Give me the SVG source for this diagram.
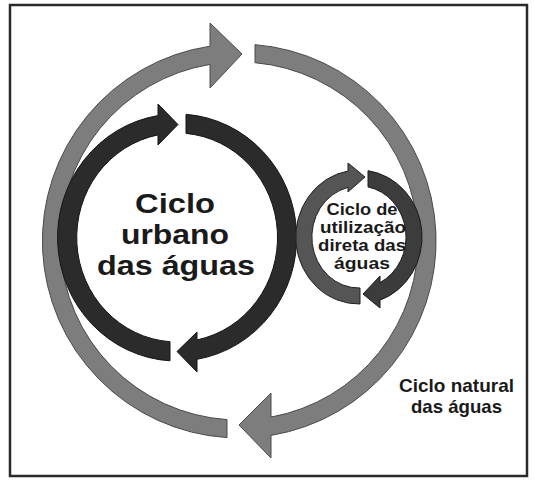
<svg xmlns="http://www.w3.org/2000/svg" width="535" height="483" viewBox="0 0 535 483">
<style>
.frame{fill:#fff;stroke:#2a2a2a;stroke-width:2.5}
.nat{fill:#7d7d7d;stroke:#4a4a4a;stroke-width:1}
.urb{fill:#2b2b2b;stroke:#151515;stroke-width:1}
.dirL{fill:#555;stroke:#222;stroke-width:1}
.dirR{fill:#3c3c3c;stroke:#1a1a1a;stroke-width:1}
text{font-family:"Liberation Sans",Arial,sans-serif;font-weight:bold;fill:#1a1a1a;text-anchor:middle}
.big{font-size:27.5px}
.mid{font-size:16px}
.lab{font-size:18.5px}
</style>
<rect class="frame" x="10" y="5" width="517" height="471"/>
<g id="connectors">
<path class="nat" d="M227,419.6 L227,437.6 A197 197 0 0 1 210,46.2 L210,23 L242,54 L210,88 L210,64.4 A179 179 0 0 0 227,419.6 Z"/>
<path class="nat" d="M255,62.7 L255,44.65 A197 197 0 0 1 271,435.4 L271,458 L239,425 L271,393 L271,417.1 A179 179 0 0 0 255,62.7 Z"/>
<path class="urb" d="M170,341.7 L170,360.8 A119.5 123.5 0 0 1 158,115.6 L158,104 L178,124.5 L158,145 L158,134.9 A100.5 104.5 0 0 0 170,341.7 Z"/>
<path class="urb" d="M186,133.4 L186,114.35 A119.5 123.5 0 0 1 197,359.3 L197,372 L177,351.5 L197,332 L197,339.9 A100.5 104.5 0 0 0 186,133.4 Z"/>
<path class="dirL" d="M360,288 L360,304 A63 67 0 0 1 348,171 L348,163 L365,177 L348,192 L348,187.4 A47 51 0 0 0 360,288 Z"/>
<path class="dirR" d="M368,186.9 L368,170.7 A63 67 0 0 1 380,300.2 L380,308 L363,294 L380,276 L380,282.6 A47 51 0 0 0 368,186.9 Z"/>
</g>
<g id="urban-cycle">
<text class="big" x="175" y="212.5" textLength="80" lengthAdjust="spacingAndGlyphs">Ciclo</text>
<text class="big" x="175" y="243.5" textLength="108" lengthAdjust="spacingAndGlyphs">urbano</text>
<text class="big" x="176" y="274.5" textLength="158" lengthAdjust="spacingAndGlyphs">das águas</text>
</g>
<g id="direct-cycle">
<text class="mid" x="362" y="215" textLength="71" lengthAdjust="spacingAndGlyphs">Ciclo de</text>
<text class="mid" x="363" y="233" textLength="86" lengthAdjust="spacingAndGlyphs">utilização</text>
<text class="mid" x="362" y="251" textLength="88" lengthAdjust="spacingAndGlyphs">direta das</text>
<text class="mid" x="362" y="269" textLength="56" lengthAdjust="spacingAndGlyphs">águas</text>
</g>
<g id="natural-cycle">
<text class="lab" x="456.5" y="392" textLength="115" lengthAdjust="spacingAndGlyphs">Ciclo natural</text>
<text class="lab" x="456.5" y="413" textLength="91" lengthAdjust="spacingAndGlyphs">das águas</text>
</g>
</svg>
